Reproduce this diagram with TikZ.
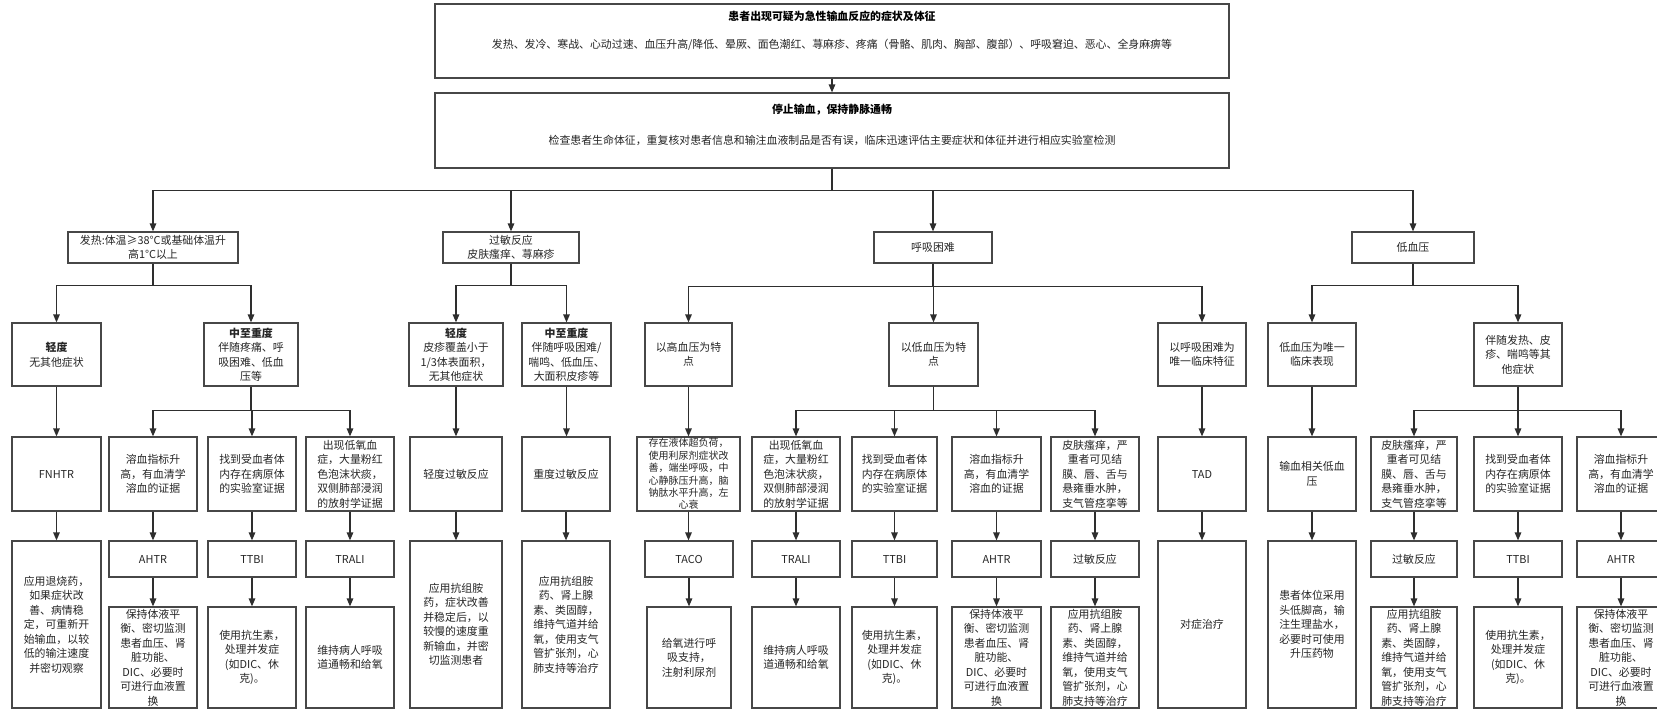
\documentclass[tikz,border=0pt]{standalone}
\usepackage{fontspec}
\setmainfont{Noto Sans CJK SC}
\usetikzlibrary{arrows.meta}
\definecolor{boxc}{HTML}{474747}
\definecolor{linec}{HTML}{2E2E2E}
\definecolor{txtc}{HTML}{262626}
\tikzset{
  bx/.style={draw=boxc, line width=1.2pt, inner sep=0pt, align=center, text=txtc,
    font=\fontsize{10.9}{14.5}\selectfont},
  arr/.style={draw=linec, line width=1.3pt, -{Triangle[length=8pt,width=6.5pt]}},
  smalltxt/.style={font=\fontsize{10}{12.4}\selectfont},
  ttl/.style={inner sep=0pt, text=black, font=\bfseries\fontsize{10.9}{13}\selectfont},
  ln/.style={inner sep=0pt, text=txtc, font=\fontsize{10.9}{13}\selectfont},
}
\newcommand{\mybox}[7][]{%
  \pgfmathsetmacro\mbcx{(#3+#5)/2}%
  \pgfmathsetmacro\mbcy{-(#4+#6)/2}%
  \pgfmathsetmacro\mbw{#5-#3}%
  \pgfmathsetmacro\mbh{#6-#4}%
  \node[bx, minimum width=\mbw pt, minimum height=\mbh pt, #1] (#2) at (\mbcx,\mbcy) {#7};}
\begin{document}
\begin{tikzpicture}[x=1pt,y=1pt]
\useasboundingbox[fill=white] (0,0) rectangle (1657,-710);
% top boxes
\mybox{top1}{435}{4}{1229}{78}{}
\node[ttl] (t1a) at (832,-16) {患者出现可疑为急性输血反应的症状及体征};
\node[ln] (t1b) at (832,-45) {发热、发冷、寒战、心动过速、血压升高/降低、晕厥、面色潮红、荨麻疹、疼痛（骨骼、肌肉、胸部、腹部）、呼吸窘迫、恶心、全身麻痹等};
\mybox{top2}{435}{93}{1229}{168}{}
\node[ttl] (t2a) at (832,-110) {停止输血，保持静脉通畅};
\node[ln] (t2b) at (832,-140) {检查患者生命体征，重复核对患者信息和输注血液制品是否有误，临床迅速评估主要症状和体征并进行相应实验室检测};
% row 1
\mybox{fever}{68}{232}{238}{263}{发热:体温≥38°C或基础体温升\\高1°C以上}
\mybox{allergy}{443}{232}{579}{263}{过敏反应\\皮肤瘙痒、荨麻疹}
\mybox{resp}{874}{232}{992}{263}{呼吸困难}
\mybox{hypo}{1352}{232}{1474}{263}{低血压}
% row 2
\mybox{fmild}{12}{323}{101}{386}{\textbf{轻度}\\无其他症状}
\mybox{fsev}{204}{323}{298}{386}{\textbf{中至重度}\\伴随疼痛、呼\\吸困难、低血\\压等}
\mybox{amild}{409}{323}{503}{386}{\textbf{轻度}\\皮疹覆盖小于\\1/3体表面积，\\无其他症状}
\mybox{asev}{522}{323}{611}{386}{\textbf{中至重度}\\伴随呼吸困难/\\喘鸣、低血压、\\大面积皮疹等}
\mybox{rhigh}{645}{323}{732}{386}{以高血压为特\\点}
\mybox{rlow}{889}{323}{978}{386}{以低血压为特\\点}
\mybox{ronly}{1158}{323}{1246}{386}{以呼吸困难为\\唯一临床特征}
\mybox{honly}{1268}{323}{1356}{386}{低血压为唯一\\临床表现}
\mybox{hwith}{1474}{323}{1562}{386}{伴随发热、皮\\疹、喘鸣等其\\他症状}
% row 3
\mybox{fnhtr}{12}{437}{101}{511}{FNHTR}
\mybox{fh1}{109}{437}{197}{511}{溶血指标升\\高，有血清学\\溶血的证据}
\mybox{fi1}{208}{437}{296}{511}{找到受血者体\\内存在病原体\\的实验室证据}
\mybox{fl1}{306}{437}{394}{511}{出现低氧血\\症，大量粉红\\色泡沫状痰，\\双侧肺部浸润\\的放射学证据}
\mybox{amr}{410}{437}{502}{511}{轻度过敏反应}
\mybox{asr}{522}{437}{610}{511}{重度过敏反应}
\mybox[smalltxt]{tacoc}{637}{437}{740}{511}{存在液体超负荷，\\使用利尿剂症状改\\善，端坐呼吸，中\\心静脉压升高，脑\\钠肽水平升高，左\\心衰}
\mybox{rl1}{752}{437}{840}{511}{出现低氧血\\症，大量粉红\\色泡沫状痰，\\双侧肺部浸润\\的放射学证据}
\mybox{ri1}{852}{437}{937}{511}{找到受血者体\\内存在病原体\\的实验室证据}
\mybox{rh1}{952}{437}{1041}{511}{溶血指标升\\高，有血清学\\溶血的证据}
\mybox{ra1}{1051}{437}{1139}{511}{皮肤瘙痒，严\\重者可见结\\膜、唇、舌与\\悬雍垂水肿，\\支气管痉挛等}
\mybox{tad}{1158}{437}{1246}{511}{TAD}
\mybox{tah}{1268}{437}{1356}{511}{输血相关低血\\压}
\mybox{ha1}{1371}{437}{1457}{511}{皮肤瘙痒，严\\重者可见结\\膜、唇、舌与\\悬雍垂水肿，\\支气管痉挛等}
\mybox{hi1}{1474}{437}{1562}{511}{找到受血者体\\内存在病原体\\的实验室证据}
\mybox{hh1}{1577}{437}{1665}{511}{溶血指标升\\高，有血清学\\溶血的证据}
% row 4 type boxes
\mybox{fahtr}{109}{541}{197}{577}{AHTR}
\mybox{fttbi}{208}{541}{296}{577}{TTBI}
\mybox{ftrali}{306}{541}{394}{577}{TRALI}
\mybox{taco}{645}{541}{733}{577}{TACO}
\mybox{rtrali}{752}{541}{840}{577}{TRALI}
\mybox{rttbi}{852}{541}{937}{577}{TTBI}
\mybox{rahtr}{952}{541}{1041}{577}{AHTR}
\mybox{rall}{1051}{541}{1139}{577}{过敏反应}
\mybox{hall}{1371}{541}{1457}{577}{过敏反应}
\mybox{httbi}{1474}{541}{1562}{577}{TTBI}
\mybox{hahtr}{1577}{541}{1665}{577}{AHTR}
% treatments
\mybox{tfn}{12}{541}{101}{708}{应用退烧药，\\如果症状改\\善、病情稳\\定，可重新开\\始输血，以较\\低的输注速度\\并密切观察}
\mybox{tfahtr}{109}{607}{197}{708}{保持体液平\\衡、密切监测\\患者血压、肾\\脏功能、\\DIC、必要时\\可进行血液置\\换}
\mybox{tfttbi}{208}{607}{296}{708}{使用抗生素，\\处理并发症\\(如DIC、休\\克)。}
\mybox{tftrali}{306}{607}{394}{708}{维持病人呼吸\\道通畅和给氧}
\mybox{tam}{410}{541}{502}{708}{应用抗组胺\\药，症状改善\\并稳定后，以\\较慢的速度重\\新输血，并密\\切监测患者}
\mybox{tas}{522}{541}{610}{708}{应用抗组胺\\药、肾上腺\\素、类固醇，\\维持气道并给\\氧，使用支气\\管扩张剂，心\\肺支持等治疗}
\mybox{ttaco}{647}{607}{731}{708}{给氧进行呼\\吸支持，\\注射利尿剂}
\mybox{trtrali}{752}{607}{840}{708}{维持病人呼吸\\道通畅和给氧}
\mybox{trttbi}{852}{607}{937}{708}{使用抗生素，\\处理并发症\\(如DIC、休\\克)。}
\mybox{trahtr}{952}{607}{1041}{708}{保持体液平\\衡、密切监测\\患者血压、肾\\脏功能、\\DIC、必要时\\可进行血液置\\换}
\mybox{trall}{1051}{607}{1139}{708}{应用抗组胺\\药、肾上腺\\素、类固醇，\\维持气道并给\\氧，使用支气\\管扩张剂，心\\肺支持等治疗}
\mybox{ttad}{1158}{541}{1246}{708}{对症治疗}
\mybox{ttah}{1268}{541}{1356}{708}{患者体位采用\\头低脚高，输\\注生理盐水，\\必要时可使用\\升压药物}
\mybox{thall}{1371}{607}{1457}{708}{应用抗组胺\\药、肾上腺\\素、类固醇，\\维持气道并给\\氧，使用支气\\管扩张剂，心\\肺支持等治疗}
\mybox{thttbi}{1474}{607}{1562}{708}{使用抗生素，\\处理并发症\\(如DIC、休\\克)。}
\mybox{thahtr}{1577}{607}{1665}{708}{保持体液平\\衡、密切监测\\患者血压、肾\\脏功能、\\DIC、必要时\\可进行血液置\\换}
% connectors
\draw[arr] (top1.south) -- (top2.north);
\foreach \c in {fever,allergy,resp,hypo} \draw[arr] (top2.south) -- ++(0,-22) -| (\c.north);
\foreach \c in {fmild,fsev} \draw[arr] (fever.south) -- ++(0,-22) -| (\c.north);
\foreach \c in {amild,asev} \draw[arr] (allergy.south) -- ++(0,-22) -| (\c.north);
\foreach \c in {rhigh,rlow,ronly} \draw[arr] (resp.south) -- ++(0,-23) -| (\c.north);
\foreach \c in {honly,hwith} \draw[arr] (hypo.south) -- ++(0,-22) -| (\c.north);
\foreach \c in {fh1,fi1,fl1} \draw[arr] (fsev.south) -- ++(0,-24) -| (\c.north);
\foreach \c in {rl1,ri1,rh1,ra1} \draw[arr] (rlow.south) -- ++(0,-24) -| (\c.north);
\foreach \c in {ha1,hi1,hh1} \draw[arr] (hwith.south) -- ++(0,-24) -| (\c.north);
\foreach \a/\b in {fmild/fnhtr,amild/amr,asev/asr,rhigh/tacoc,ronly/tad,honly/tah,
  fnhtr/tfn,fh1/fahtr,fi1/fttbi,fl1/ftrali,amr/tam,asr/tas,tacoc/taco,rl1/rtrali,ri1/rttbi,rh1/rahtr,ra1/rall,tad/ttad,tah/ttah,ha1/hall,hi1/httbi,hh1/hahtr,
  fahtr/tfahtr,fttbi/tfttbi,ftrali/tftrali,taco/ttaco,rtrali/trtrali,rttbi/trttbi,rahtr/trahtr,rall/trall,hall/thall,httbi/thttbi,hahtr/thahtr}
  \draw[arr] (\a.south) -- (\a.south |- \b.north);
\end{tikzpicture}
\end{document}
